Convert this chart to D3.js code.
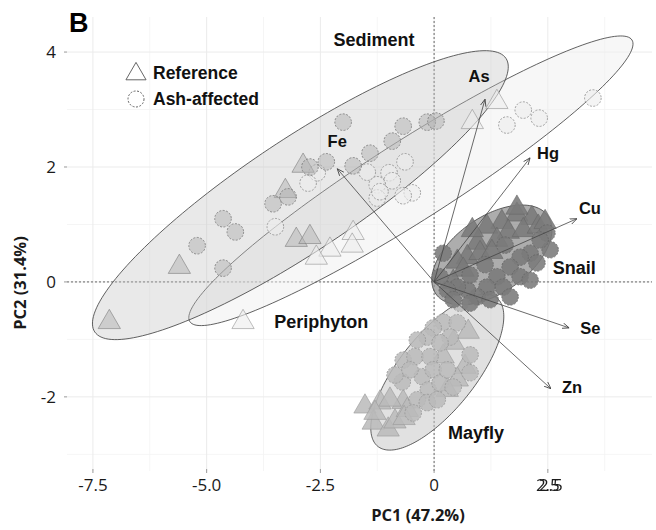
<!DOCTYPE html>
<html><head><meta charset="utf-8">
<script src="https://cdn.jsdelivr.net/npm/d3@7"></script>
<style>body{margin:0;background:#fff}svg{display:block}</style>
</head><body>
<svg id="chart" width="656" height="530"></svg>
<script>
// ---------------- DATA ----------------
const groups = ["Mayfly", "Periphyton", "Sediment", "Snail"];

// PCA scores [PC1, PC2]
const sedimentReference = [[-7.14,-0.70],[-5.60,0.26],[-2.88,2.02],[-3.27,1.58],[-3.03,0.73],[-2.73,0.78]];
const sedimentAsh = [[-5.21,0.63],[-4.64,1.10],[-4.37,0.87],[-4.64,0.24],[-3.54,1.36],[-3.21,1.48],[-2.73,2.00],
  [-2.37,2.09],[-2.00,2.78],[-1.78,2.02],[-1.41,2.24],[-0.92,2.45],[-0.68,2.71],[-0.15,2.78],[0.04,2.80]];
const periphytonReference = [[-4.20,-0.70],[-1.78,0.85],[-1.80,0.63],[-2.29,0.56],[-2.59,0.42],[0.84,2.78],[1.38,3.13]];
const periphytonAsh = [[-3.49,0.96],[-2.57,1.90],[-2.77,1.72],[-1.47,1.91],[-0.64,2.09],[-0.99,1.90],[-0.92,1.76],
  [-1.25,1.69],[-1.25,1.46],[-1.19,1.57],[-0.48,1.55],[-0.68,1.50],[1.96,2.99],[2.31,2.85],[1.60,2.73],[3.49,3.20]];
const snailReference = [[1.82,1.17],[1.49,1.04],[2.15,1.11],[1.16,0.96],[1.63,0.87],[1.96,0.90],[1.38,0.73],[0.95,0.68],
  [0.73,0.43],[1.01,0.50],[1.27,0.52],[0.51,0.35],[0.64,0.21],[2.29,0.96],[0.42,0.00],[1.82,1.29],[2.44,1.04],[0.84,0.90]];
const snailAsh = [[2.11,0.50],[2.55,0.56],[1.89,0.43],[1.67,0.26],[1.38,0.09],[1.52,-0.09],[1.16,-0.09],[0.95,-0.26],
  [0.73,-0.14],[0.51,-0.09],[0.29,-0.14],[0.13,0.09],[0.20,0.50],[1.89,0.09],[2.26,0.33],[2.11,0.03],[1.67,-0.26],
  [1.23,-0.31],[0.79,-0.37],[0.42,-0.31],[2.48,0.85],[2.33,0.73],[1.56,0.64],[1.12,0.30],[0.79,0.12]];
const mayflyReference = [[-1.52,-2.17],[-1.19,-2.10],[-1.34,-2.45],[-1.01,-2.57],[-0.86,-2.43],[-0.68,-2.09],[-0.59,-2.23],
  [-0.97,-2.05],[0.75,-0.87],[0.42,-1.06],[0.68,-1.48],[0.51,-1.70],[0.20,-1.30],[0.29,-1.88],[-1.30,-2.28],[-0.66,-2.37]];
const mayflyAsh = [[0.20,-0.70],[-0.02,-0.80],[-0.15,-0.96],[-0.37,-1.01],[-0.68,-1.36],[-0.42,-1.30],[-0.09,-1.30],
  [-0.26,-1.65],[-0.02,-1.53],[-0.70,-1.74],[-0.13,-1.88],[0.13,-1.76],[-0.37,-2.05],[-0.15,-2.10],[0.42,-1.83],
  [0.79,-1.27],[0.51,-0.71],[0.35,-0.96],[0.79,-1.58],[-0.46,-2.28],[0.07,-2.05],[0.29,-1.53],[0.13,-1.06],
  [0.57,-0.37],[-0.86,-1.62],[-0.53,-1.53]];

// Confidence ellipses: centre, first and second semi-axis vectors (PC units)
const ellipseCentre = {Mayfly:[0.07,-1.57], Periphyton:[-0.51,1.76], Sediment:[-2.94,1.51], Snail:[1.27,0.47]};
const ellipseAxisA  = {Mayfly:[1.31,1.29], Periphyton:[4.86,2.45], Sediment:[4.52,2.38], Snail:[1.23,0.68]};
const ellipseAxisB  = {Mayfly:[0.65,-0.42], Periphyton:[0.47,-0.59], Sediment:[0.68,-0.81], Snail:[0.48,-0.54]};

// Variable loadings
const variables = ["As", "Hg", "Cu", "Fe", "Se", "Zn"];
const varPC1 = [1.12, 2.11, 3.14, -2.13, 2.97, 2.57];
const varPC2 = [3.18, 2.16, 1.10, 1.97, -0.80, -1.86];

// Group label anchors (PC units)
const groupLabelNames = ["Sediment", "Periphyton", "Snail", "Mayfly"];
const groupLabelPC1 = [-1.32, -2.48, 3.08, 0.92];
const groupLabelPC2 = [4.21, -0.70, 0.24, -2.63];

const xTicks = [-7.5, -5, -2.5, 0, 2.5];
const xTickLabels = ["-7.5", "-5.0", "-2.5", "0", "2.5"];
const yTicks = [-2, 0, 2, 4];
const yTickLabels = ["-2", "0", "2", "4"];
const legendLabels = ["Reference", "Ash-affected"];

// ---------------- DRAW ----------------
const svg = d3.select("#chart");
const L = 67, R = 652, T = 17, B = 471;
const x = d3.scaleLinear().domain([-8.07, 4.79]).range([L, R]);
const y = d3.scaleLinear().domain([-3.29, 4.61]).range([B, T]);

const style = {
  Mayfly:     {efill:"#c4c4c4", eop:0.5,  pfill:"#bababa", pop:0.85, pstroke:"#959595"},
  Periphyton: {efill:"#f0f0f0", eop:0.5,  pfill:"#ececec", pop:0.6,  pstroke:"#8c8c8c"},
  Sediment:   {efill:"#bfbfbf", eop:0.35, pfill:"#b2b2b2", pop:0.5,  pstroke:"#777"},
  Snail:      {efill:"#8e8e8e", eop:0.72, pfill:"#7a7a7a", pop:0.88, pstroke:"#646464"}
};

const defs = svg.append("defs");
const dup = defs.append("filter").attr("id", "dup").attr("x", "-20%").attr("width", "160%");
dup.append("feOffset").attr("in", "SourceGraphic").attr("dx", 3).attr("dy", 0).attr("result", "off");
const mg = dup.append("feMerge");
mg.append("feMergeNode").attr("in", "SourceGraphic");
mg.append("feMergeNode").attr("in", "off");

// grid
const g = svg.append("g");
const minorX = d3.range(-8.75, 5, 1.25).filter(v => !xTicks.includes(v));
const minorY = d3.range(-3, 5, 1).filter(v => !yTicks.includes(v));
g.selectAll(".mx").data(minorX.filter(v=>x(v)>=L&&x(v)<=R)).enter().append("line")
  .attr("x1", d=>x(d)).attr("x2", d=>x(d)).attr("y1", T).attr("y2", B).attr("stroke", "#f3f3f3").attr("stroke-width", 0.8);
g.selectAll(".my").data(minorY.filter(v=>y(v)>=T&&y(v)<=B)).enter().append("line")
  .attr("y1", d=>y(d)).attr("y2", d=>y(d)).attr("x1", L).attr("x2", R).attr("stroke", "#f3f3f3").attr("stroke-width", 0.8);
g.selectAll(".gx").data(xTicks).enter().append("line")
  .attr("x1", d=>x(d)).attr("x2", d=>x(d)).attr("y1", T).attr("y2", B).attr("stroke", "#ebebeb").attr("stroke-width", 1);
g.selectAll(".gy").data(yTicks).enter().append("line")
  .attr("y1", d=>y(d)).attr("y2", d=>y(d)).attr("x1", L).attr("x2", R).attr("stroke", "#ebebeb").attr("stroke-width", 1);
// zero lines
g.append("line").attr("x1", x(0)).attr("x2", x(0)).attr("y1", T).attr("y2", B)
  .attr("stroke", "#444").attr("stroke-width", 0.8).attr("stroke-dasharray", "2,2");
g.append("line").attr("y1", y(0)).attr("y2", y(0)).attr("x1", L).attr("x2", R)
  .attr("stroke", "#444").attr("stroke-width", 0.8).attr("stroke-dasharray", "2,2");

// axes ticks & labels
const tickFont = "'Open Sans', 'Noto Sans', sans-serif";
svg.selectAll(".xt").data(xTicks).enter().append("line")
  .attr("x1", d=>x(d)).attr("x2", d=>x(d)).attr("y1", B-2).attr("y2", B+2).attr("stroke", "#999");
svg.selectAll(".yt").data(yTicks).enter().append("line")
  .attr("x1", L-3).attr("x2", L).attr("y1", d=>y(d)).attr("y2", d=>y(d)).attr("stroke", "#999");
svg.selectAll(".xl").data(xTicks).enter().append("text")
  .attr("x", d=>x(d)).attr("y", 485).attr("dy", "0.35em").attr("text-anchor", "middle")
  .attr("font-family", tickFont).attr("font-size", 17).attr("fill", "#1a1a1a")
  .attr("filter", (d,i)=> i === xTicks.length-1 ? "url(#dup)" : null)
  .text((d,i)=>xTickLabels[i]);
svg.selectAll(".yl").data(yTicks).enter().append("text")
  .attr("x", L-11).attr("y", d=>y(d)).attr("dy", "0.35em").attr("text-anchor", "end")
  .attr("font-family", tickFont).attr("font-size", 17).attr("fill", "#1a1a1a")
  .text((d,i)=>yTickLabels[i]);

svg.append("text").attr("x", 418).attr("y", 515).attr("dy", "0.35em").attr("text-anchor", "middle")
  .attr("font-family", tickFont).attr("font-weight", "bold").attr("font-size", 16.5).attr("fill", "#1a1a1a").text("PC1 (47.2%)");
svg.append("text").attr("transform", "translate(20,283) rotate(-90)").attr("dy", "0.35em").attr("text-anchor", "middle")
  .attr("font-family", tickFont).attr("font-weight", "bold").attr("font-size", 16.5).attr("fill", "#1a1a1a").text("PC2 (31.4%)");

svg.append("text").attr("x", 69).attr("y", 32).attr("font-family", "'Liberation Sans', Arial, sans-serif")
  .attr("font-weight", "bold").attr("font-size", 27).text("B");

// ellipses
const ts = d3.range(0, 2*Math.PI, Math.PI/90);
const eLine = d3.line().curve(d3.curveLinearClosed);
groups.forEach(grp => {
  const c = ellipseCentre[grp], a = ellipseAxisA[grp], b = ellipseAxisB[grp];
  const pts = ts.map(t => [x(c[0] + Math.cos(t)*a[0] + Math.sin(t)*b[0]), y(c[1] + Math.cos(t)*a[1] + Math.sin(t)*b[1])]);
  svg.append("path").attr("d", eLine(pts))
    .attr("fill", style[grp].efill).attr("fill-opacity", style[grp].eop)
    .attr("stroke", "#3a3a3a").attr("stroke-width", 0.8);
});

// points
const pointSets = [
  ["Mayfly", "tri", mayflyReference], ["Mayfly", "cir", mayflyAsh],
  ["Periphyton", "tri", periphytonReference], ["Periphyton", "cir", periphytonAsh],
  ["Sediment", "tri", sedimentReference], ["Sediment", "cir", sedimentAsh],
  ["Snail", "tri", snailReference], ["Snail", "cir", snailAsh]
];
const triSym = d3.symbol().type(d3.symbolTriangle).size(215);
pointSets.forEach(([grp, kind, arr]) => {
  const s = style[grp];
  if (kind === "cir") {
    svg.append("g").selectAll("circle").data(arr).enter().append("circle")
      .attr("cx", d=>x(d[0])).attr("cy", d=>y(d[1])).attr("r", 8.3)
      .attr("fill", s.pfill).attr("fill-opacity", s.pop)
      .attr("stroke", s.pstroke).attr("stroke-width", 0.8).attr("stroke-dasharray", "2,1.5");
  } else {
    svg.append("g").selectAll("path").data(arr).enter().append("path")
      .attr("d", triSym).attr("transform", d=>`translate(${x(d[0])},${y(d[1])})`)
      .attr("fill", s.pfill).attr("fill-opacity", s.pop)
      .attr("stroke", s.pstroke).attr("stroke-opacity", 0.7).attr("stroke-width", 0.8);
  }
});

// arrows
defs.append("marker").attr("id", "arr").attr("viewBox", "0 0 10 10").attr("refX", 10).attr("refY", 5)
  .attr("markerWidth", 7).attr("markerHeight", 7).attr("markerUnits", "userSpaceOnUse").attr("orient", "auto")
  .append("path").attr("d", "M0,1 L10,5 L0,9").attr("fill", "none").attr("stroke", "#444").attr("stroke-width", 1.2);
svg.append("g").selectAll("line").data(variables).enter().append("line")
  .attr("x1", x(0)).attr("y1", y(0)).attr("x2", (d,i)=>x(varPC1[i])).attr("y2", (d,i)=>y(varPC2[i]))
  .attr("stroke", "#444").attr("stroke-width", 0.8).attr("marker-end", "url(#arr)");
const labelOffset = {As:[-6,-23], Hg:[18,-5], Cu:[13,-10], Fe:[0,-27], Se:[11,0], Zn:[11,-2]};
const labFont = "'Liberation Sans', Arial, sans-serif";
svg.append("g").selectAll("text").data(variables).enter().append("text")
  .attr("x", (d,i)=>x(varPC1[i]) + labelOffset[d][0])
  .attr("y", (d,i)=>y(varPC2[i]) + labelOffset[d][1])
  .attr("dy", "0.35em").attr("text-anchor", d => (d==="Se"||d==="Zn") ? "start" : "middle")
  .attr("font-family", labFont).attr("font-weight", "bold").attr("font-size", 16.5).attr("fill", "#111").text(d=>d);

// group labels
svg.append("g").selectAll("text").data(groupLabelNames).enter().append("text")
  .attr("x", (d,i)=>x(groupLabelPC1[i])).attr("y", (d,i)=>y(groupLabelPC2[i])).attr("dy", "0.35em")
  .attr("text-anchor", "middle").attr("font-family", labFont).attr("font-weight", "bold")
  .attr("font-size", 18).attr("fill", "#111").text(d=>d);

// legend
const lg = svg.append("g");
lg.append("path").attr("d", d3.symbol().type(d3.symbolTriangle).size(175)).attr("transform", "translate(136,74)")
  .attr("fill", "#fff").attr("stroke", "#555").attr("stroke-width", 0.9);
lg.append("circle").attr("cx", 136).attr("cy", 99).attr("r", 8).attr("fill", "#fff")
  .attr("stroke", "#555").attr("stroke-width", 0.9).attr("stroke-dasharray", "2,1.5");
lg.selectAll("text").data(legendLabels).enter().append("text")
  .attr("x", 153).attr("y", (d,i)=>73 + i*26).attr("dy", "0.35em")
  .attr("font-family", labFont).attr("font-weight", "bold").attr("font-size", 17.5).attr("fill", "#111").text(d=>d);
</script>
</body></html>
